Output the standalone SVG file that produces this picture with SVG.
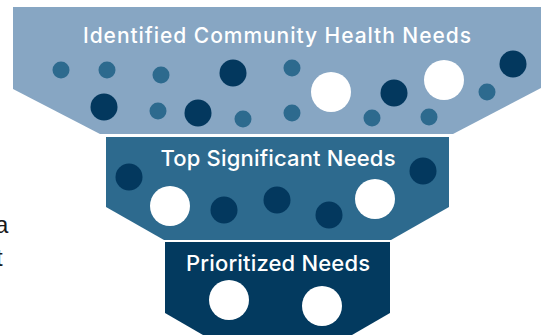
<svg xmlns="http://www.w3.org/2000/svg" width="541" height="335" viewBox="0 0 541 335">
<style>
.lbl{font-family:Inter,"Open Sans",sans-serif;fill:#ffffff;text-anchor:middle;font-weight:500;}
.side{font-family:"Liberation Sans",Arial,sans-serif;fill:#1a1a1a;font-size:24px;}
.m{fill:#2D6A8E;}
.d{fill:#03385E;}
.w{fill:#ffffff;}
</style>
<rect width="541" height="335" fill="#ffffff"/>
<text class="side" x="-5" y="233">a</text>
<text class="side" x="-4" y="266">t</text>
<g id="connectors"/>
<g id="identified">
<polygon points="13,7 541,7 541,88 453,134 100,134 13,89" fill="#87A6C3"/>
<text class="lbl" x="277" y="43" font-size="21" textLength="388" lengthAdjust="spacing">Identified Community Health Needs</text>
<circle class="m" cx="61" cy="70" r="8.5"/>
<circle class="m" cx="107" cy="70" r="8.5"/>
<circle class="m" cx="161" cy="75" r="8.5"/>
<circle class="d" cx="233" cy="73" r="13.5"/>
<circle class="d" cx="104" cy="107" r="13.5"/>
<circle class="m" cx="158" cy="111" r="8.5"/>
<circle class="d" cx="198" cy="113" r="13.5"/>
<circle class="m" cx="243" cy="119" r="8.5"/>
<circle class="m" cx="292" cy="68" r="8.5"/>
<circle class="m" cx="292" cy="113" r="8.5"/>
<circle class="w" cx="331" cy="92" r="20"/>
<circle class="m" cx="372" cy="118" r="8.5"/>
<circle class="d" cx="394" cy="93" r="13.5"/>
<circle class="m" cx="429" cy="117" r="8.5"/>
<circle class="w" cx="444" cy="80" r="20"/>
<circle class="m" cx="487" cy="92" r="8.5"/>
<circle class="d" cx="513" cy="64" r="13.5"/>
</g>
<g id="top-significant">
<polygon points="106,137 449,137 449,207 391,240 164,240 106,207" fill="#2D6A8E"/>
<text class="lbl" x="278" y="166" font-size="22" textLength="235" lengthAdjust="spacing">Top Significant Needs</text>
<circle class="d" cx="129" cy="177" r="13.5"/>
<circle class="w" cx="170" cy="206" r="20"/>
<circle class="d" cx="224" cy="210" r="13.5"/>
<circle class="d" cx="277" cy="200" r="13.5"/>
<circle class="d" cx="329" cy="215" r="13.5"/>
<circle class="w" cx="375" cy="199" r="20"/>
<circle class="d" cx="423" cy="171" r="13.5"/>
</g>
<g id="prioritized">
<polygon points="165,242 390,242 390,313 352,335 203,335 165,313" fill="#033A5F"/>
<text class="lbl" x="278" y="271" font-size="22" textLength="184" lengthAdjust="spacing">Prioritized Needs</text>
<circle class="w" cx="229" cy="300" r="20"/>
<circle class="w" cx="322" cy="306" r="20"/>
</g>
</svg>
